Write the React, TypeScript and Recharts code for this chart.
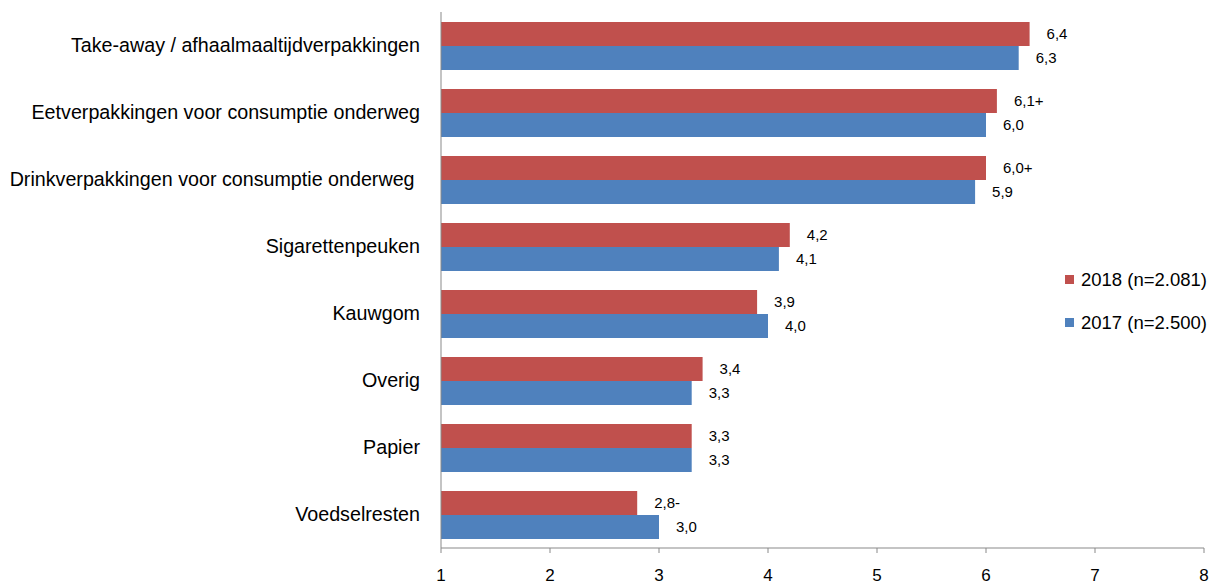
import { Bar, BarChart, LabelList, Legend, XAxis, YAxis } from 'recharts'

const categories = [
  'Take-away / afhaalmaaltijdverpakkingen',
  'Eetverpakkingen voor consumptie onderweg',
  'Drinkverpakkingen voor consumptie onderweg\u00a0',
  'Sigarettenpeuken',
  'Kauwgom',
  'Overig',
  'Papier',
  'Voedselresten'
]
const values2018 = [6.4, 6.1, 6.0, 4.2, 3.9, 3.4, 3.3, 2.8]
const values2017 = [6.3, 6.0, 5.9, 4.1, 4.0, 3.3, 3.3, 3.0]
const labels2018 = ['6,4', '6,1+', '6,0+', '4,2', '3,9', '3,4', '3,3', '2,8-']
const labels2017 = ['6,3', '6,0', '5,9', '4,1', '4,0', '3,3', '3,3', '3,0']
const xTicks = [1, 2, 3, 4, 5, 6, 7, 8]

const RED = '#C0504D'
const BLUE = '#4F81BD'
const AXIS = '#898989'
const FONT = '"Liberation Sans", Arial, sans-serif'

const data = categories.map((name, i) => ({
  name,
  y2018: values2018[i],
  y2017: values2017[i],
  l2018: labels2018[i],
  l2017: labels2017[i]
}))

const legendItems = [
  { label: '2018 (n=2.081)', color: RED },
  { label: '2017 (n=2.500)', color: BLUE }
]

const LegendBox = () => (
  <div style={{ fontFamily: FONT, fontSize: 18.5, color: '#000' }}>
    {legendItems.map((it) => (
      <div key={it.label} style={{ display: 'flex', alignItems: 'center', height: 43 }}>
        <span style={{ width: 9, height: 9, background: it.color, marginRight: 7, display: 'inline-block' }} />
        <span>{it.label}</span>
      </div>
    ))}
  </div>
)

const App = () => {
  return (
    <div style={{ position: 'absolute', left: 0, top: 0, background: '#fff' }}>
      <BarChart
        width={1221}
        height={585}
        layout="vertical"
        data={data}
        margin={{ top: 12, right: 17, bottom: 0, left: 0 }}
        barGap={0}
        barSize={24}
      >
        <XAxis
          type="number"
          domain={[1, 8]}
          ticks={xTicks}
          allowDataOverflow
          height={37}
          stroke={AXIS}
          tickSize={5}
          tickMargin={16}
          tick={{ fill: '#000', fontSize: 17, fontFamily: FONT }}
        />
        <YAxis
          type="category"
          dataKey="name"
          width={441}
          stroke={AXIS}
          tickLine={false}
          tickSize={0}
          tickMargin={21}
          tick={{ fill: '#000', fontSize: 19.7, fontFamily: FONT }}
        />
        <Legend
          layout="horizontal"
          align="center"
          verticalAlign="middle"
          wrapperStyle={{ left: 1065, top: 258, width: 156 }}
          content={() => <LegendBox />}
        />
        <Bar dataKey="y2018" fill={RED} isAnimationActive={false}>
          <LabelList dataKey="l2018" position="right" offset={17} fill="#000" fontSize={15} fontFamily={FONT} />
        </Bar>
        <Bar dataKey="y2017" fill={BLUE} isAnimationActive={false}>
          <LabelList dataKey="l2017" position="right" offset={17} fill="#000" fontSize={15} fontFamily={FONT} />
        </Bar>
      </BarChart>
    </div>
  )
}

export default App
